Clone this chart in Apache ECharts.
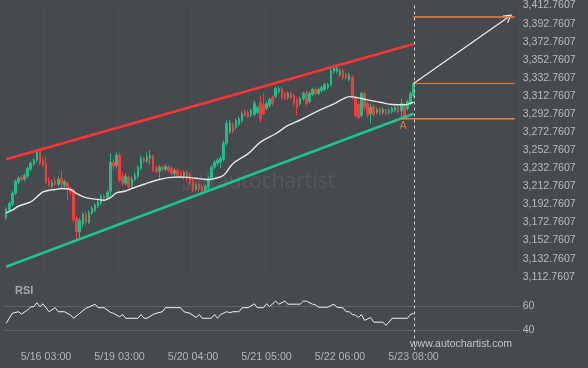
<!DOCTYPE html>
<html><head><meta charset="utf-8">
<script src="https://cdn.jsdelivr.net/npm/echarts@6/dist/echarts.min.js"></script>
<style>html,body{margin:0;padding:0;background:#46494e;}#c{width:588px;height:368px;}</style>
</head><body><div id="c"></div>
<script>
const nBars = 134;
const nFuture = 34;
const xTickIdx = [13, 37, 61, 85, 109, 133];
const xTickLabels = ['5/16 03:00', '5/19 03:00', '5/20 04:00', '5/21 05:00', '5/22 06:00', '5/23 08:00'];

const opens = [3178.6,3186.3,3193.0,3205.1,3217.2,3222.7,3220.5,3223.8,3231.6,3237.1,
3241.5,3251.4,3241.5,3238.2,3219.4,3212.8,3218.3,3215.0,3221.6,3213.9,
3216.1,3210.6,3208.4,3177.5,3162.1,3170.9,3181.9,3173.1,3183.0,3186.3,
3190.7,3194.1,3201.8,3199.6,3207.3,3239.3,3236.0,3247.0,3223.8,3216.1,
3222.7,3212.8,3220.5,3223.8,3232.7,3243.7,3240.4,3243.7,3245.9,3232.7,
3229.3,3233.8,3231.6,3233.8,3232.7,3227.1,3230.4,3228.2,3223.8,3228.2,
3226.0,3219.4,3209.5,3215.0,3212.8,3208.4,3211.7,3221.6,3233.8,3238.2,
3239.3,3242.6,3260.2,3272.4,3281.2,3277.9,3281.2,3285.6,3295.5,3294.4,
3291.1,3292.2,3294.4,3305.4,3303.2,3298.8,3302.1,3311.0,3312.1,3317.6,
3320.9,3315.4,3311.0,3315.4,3313.2,3308.8,3304.3,3309.9,3316.5,3306.6,
3314.3,3319.8,3315.4,3318.7,3319.8,3322.0,3325.3,3339.6,3339.6,3336.3,
3340.7,3336.3,3330.8,3333.0,3311.0,3303.2,3291.1,3315.4,3304.3,3293.3,
3301.0,3294.4,3298.8,3294.4,3296.6,3294.4,3295.5,3296.6,3299.9,3296.6,
3303.2,3298.8,3304.3,3313.2];
const closes = [3187.4,3194.1,3205.1,3218.3,3221.6,3220.5,3224.9,3232.7,3238.2,3241.5,
3251.4,3238.2,3236.0,3217.2,3213.9,3217.2,3215.0,3220.5,3216.1,3218.3,
3210.6,3206.2,3175.3,3162.1,3175.3,3181.9,3173.1,3184.1,3188.5,3191.8,
3195.2,3201.8,3199.6,3206.2,3239.3,3234.9,3247.0,3219.4,3216.1,3223.8,
3212.8,3220.5,3224.9,3233.8,3243.7,3240.4,3245.9,3247.0,3230.4,3229.3,
3233.8,3231.6,3234.9,3230.4,3227.1,3230.4,3224.9,3223.8,3228.2,3222.7,
3217.2,3208.4,3213.9,3209.5,3207.3,3212.8,3221.6,3233.8,3239.3,3241.5,
3243.7,3260.2,3282.3,3283.4,3273.5,3285.6,3287.8,3293.3,3291.1,3290.0,
3296.6,3304.3,3299.9,3287.8,3293.3,3304.3,3308.8,3304.3,3320.9,3320.9,
3311.0,3309.9,3315.4,3311.0,3304.3,3299.9,3309.9,3315.4,3304.3,3315.4,
3319.8,3315.4,3319.8,3322.0,3325.3,3325.3,3340.7,3344.1,3342.9,3340.7,
3333.0,3333.0,3336.3,3311.0,3291.1,3288.9,3315.4,3299.9,3291.1,3299.9,
3292.2,3297.7,3293.3,3297.7,3293.3,3296.6,3298.8,3299.9,3295.5,3304.3,
3290.0,3306.6,3315.4,3326.4];
const lows = [3175.3,3184.1,3190.7,3202.9,3215.0,3218.3,3218.3,3221.6,3229.3,3234.9,
3239.3,3236.0,3233.8,3215.0,3211.7,3210.6,3212.8,3212.8,3211.7,3211.7,
3197.4,3202.9,3173.1,3154.4,3153.2,3167.6,3169.8,3170.9,3180.8,3184.1,
3188.5,3191.8,3196.3,3197.4,3201.8,3230.4,3232.7,3217.2,3212.8,3213.9,
3210.6,3210.6,3218.3,3221.6,3230.4,3238.2,3238.2,3237.1,3228.2,3227.1,
3219.4,3229.3,3229.3,3228.2,3224.9,3223.8,3222.7,3221.6,3220.5,3218.3,
3213.9,3206.2,3207.3,3206.2,3204.0,3205.1,3208.4,3219.4,3231.6,3234.9,
3232.7,3240.4,3258.0,3270.2,3271.3,3275.7,3279.0,3283.4,3288.9,3287.8,
3288.9,3290.0,3292.2,3283.4,3291.1,3296.6,3299.9,3302.1,3309.9,3315.4,
3308.8,3307.7,3308.8,3308.8,3302.1,3291.1,3302.1,3307.7,3302.1,3304.3,
3312.1,3313.2,3313.2,3316.5,3317.6,3319.8,3323.1,3337.4,3337.4,3334.1,
3330.8,3330.8,3328.6,3308.8,3288.9,3286.7,3288.9,3296.6,3288.9,3282.3,
3290.0,3292.2,3291.1,3292.2,3291.1,3292.2,3293.3,3294.4,3293.3,3287.8,
3288.9,3296.6,3302.1,3311.0];
const highs = [3189.6,3196.3,3207.3,3220.5,3223.8,3224.9,3227.1,3234.9,3240.4,3243.7,
3253.6,3253.6,3244.8,3245.9,3222.7,3220.5,3222.7,3223.8,3230.4,3220.5,
3218.3,3212.8,3210.6,3179.7,3177.5,3184.1,3185.2,3186.3,3190.7,3194.1,
3197.4,3204.0,3204.0,3208.4,3249.2,3242.6,3250.3,3249.2,3228.2,3227.1,
3224.9,3223.8,3228.2,3236.0,3247.0,3245.9,3250.3,3252.5,3248.1,3236.0,
3236.0,3236.0,3237.1,3236.0,3234.9,3232.7,3232.7,3230.4,3230.4,3230.4,
3228.2,3221.6,3216.1,3217.2,3215.0,3215.0,3223.8,3236.0,3241.5,3243.7,
3245.9,3263.5,3285.6,3286.7,3283.4,3287.8,3290.0,3295.5,3297.7,3296.6,
3298.8,3307.7,3302.1,3313.2,3315.4,3306.6,3311.0,3313.2,3323.1,3323.1,
3323.1,3317.6,3317.6,3317.6,3315.4,3311.0,3312.1,3317.6,3318.7,3317.6,
3322.0,3322.0,3322.0,3324.2,3327.5,3327.5,3342.9,3347.4,3345.2,3342.9,
3342.9,3338.5,3338.5,3335.2,3313.2,3306.6,3317.6,3317.6,3306.6,3304.3,
3303.2,3299.9,3301.0,3299.9,3298.8,3298.8,3301.0,3302.1,3302.1,3309.9,
3305.4,3308.8,3317.6,3327.5];

const maIdx = [0,2,4,8,10,12,14,16,18,21,23,26,30,32,34,36,39,41,45,49,53,57,60,63,66,68,71,74,79,83,88,92,96,102,107,110,112,115,118,122,126,130,133];
const maVal = [3183.4,3186.3,3190.7,3195.5,3201.0,3206.5,3208.4,3209.2,3210.3,3209.2,
3204.8,3200.3,3198.1,3197.4,3200.3,3205.4,3207.6,3210.3,3215.0,3219.4,
3222.4,3223.1,3222.4,3221.3,3220.2,3221.3,3224.9,3237.8,3248.9,3261.6,
3270.9,3280.1,3286.1,3296.6,3304.0,3309.5,3312.0,3310.6,3308.4,3305.8,
3303.2,3302.9,3305.8];

const rsiIdx = [0,2,4,5,7,8,9,10,11,12,14,16,17,19,21,22,24,26,29,30,32,34,35,37,38,39,41,43,44,45,46,48,49,51,52,54,57,58,60,62,63,64,67,68,69,70,72,73,74,76,77,79,81,82,84,85,86,88,89,91,92,96,97,98,100,101,102,105,107,108,110,111,112,113,114,115,116,117,119,120,123,124,125,126,131,132,133];
const rsiVal = [45.8,54,55.3,53.4,56.7,59.4,59.4,62.7,59.4,61.8,
55.3,58.6,55.3,55.3,52.6,49.9,54,58.1,61.4,58.6,
58.6,54.8,54,51.2,53,49.9,49.9,49.9,53,49.9,
49.9,53,54,55.3,58.6,58.6,58.6,55.3,54,50.5,
53,49.9,49.9,53,49.9,53,55.3,54.5,55.3,55.3,
58.6,58.6,61.8,58.6,58.6,61.8,59.5,64,61.5,64,
61.5,61.5,64,64,61.5,61,59,59,61.5,59,
58.4,55.3,55.3,53,52.5,50.5,53,48.2,50.5,46.7,
46.7,44.1,46.7,49.9,49.9,53,54];

const channelUpper = [[0, 3242.6], [133, 3370.2]];
const channelLower = [[0, 3123.8], [133, 3293.0]];
const targetLevel = 3400.0;
const entryLevel = 3326.4;
const supportLevel = 3287.5;
const levelStartIdx = 133, supportStartIdx = 129, levelEndIdx = 166, arrowEndIdx = 164;
const priceMin = 3112.7607, priceMax = 3412.7607, priceStep = 20;
const rsiMin = 40, rsiMax = 60, rsiStep = 20;

const GREEN = '#1dbf87', RED = '#f43c3c', ORANGE = '#f5803a';
const FONT = '"Liberation Sans", Arial, sans-serif';
const categories = [];
for (let i = 0; i < nBars + nFuture; i++) categories.push(String(i));
const candles = opens.map((o, i) => [o, closes[i], lows[i], highs[i]]);
const pairs = (xs, ys) => xs.map((x, k) => [x, ys[k]]);
const priceLabel = (v) => {
  const snapped = priceMin + Math.round((v - priceMin) / priceStep) * priceStep;
  return snapped.toLocaleString('en-US', {minimumFractionDigits: 4, maximumFractionDigits: 4});
};

const chart = echarts.init(document.getElementById('c'), null, {renderer: 'canvas'});
const gridL = 4.67, gridR = 68.8;
const option = {
  backgroundColor: '#46494e',
  animation: false,
  grid: [
    {left: gridL, right: gridR, top: 4.7, bottom: 91.3},
    {left: gridL, right: gridR, top: 306, bottom: 37.7}
  ],
  xAxis: [
    {type: 'category', gridIndex: 0, data: categories, boundaryGap: true,
     axisLine: {show: false}, axisTick: {show: false}, axisLabel: {show: false},
     splitLine: {show: true, interval: (i) => xTickIdx.includes(i), lineStyle: {color: 'rgba(255,255,255,0.03)'}}},
    {type: 'category', gridIndex: 1, data: categories, boundaryGap: true,
     axisLine: {show: false}, axisTick: {show: false},
     axisLabel: {show: true, interval: (i) => xTickIdx.includes(i), margin: 21,
       formatter: (v, i) => { const k = xTickIdx.indexOf(Number(v)); return k >= 0 ? xTickLabels[k] : ''; },
       color: '#b4b4b4', fontSize: 10.7, fontFamily: FONT},
     splitLine: {show: false}}
  ],
  yAxis: [
    {type: 'value', gridIndex: 0, position: 'right', min: priceMin, max: priceMax, interval: priceStep,
     axisLine: {show: false}, axisTick: {show: false}, splitLine: {show: false},
     axisLabel: {margin: 3.5, color: '#bababa', fontSize: 10.6, fontFamily: FONT, formatter: priceLabel}},
    {type: 'value', gridIndex: 1, position: 'right', min: rsiMin, max: rsiMax, interval: rsiStep,
     axisLine: {show: false}, axisTick: {show: false},
     splitLine: {show: true, lineStyle: {color: '#5e6166', width: 1}},
     axisLabel: {margin: 3.5, color: '#bababa', fontSize: 10.6, fontFamily: FONT}}
  ],
  series: [
    {type: 'candlestick', xAxisIndex: 0, yAxisIndex: 0, data: candles, barWidth: 2,
     itemStyle: {color: GREEN, color0: RED, borderColor: GREEN, borderColor0: RED, borderWidth: 1}, z: 3},
    {type: 'line', xAxisIndex: 0, yAxisIndex: 0, data: pairs(maIdx, maVal), smooth: 0.35, symbol: 'none',
     lineStyle: {color: '#e6e6e6', width: 1.4}, z: 4},
    {type: 'line', xAxisIndex: 0, yAxisIndex: 0, data: channelUpper, symbol: 'none',
     lineStyle: {color: '#ff3535', width: 2.6}, z: 5},
    {type: 'line', xAxisIndex: 0, yAxisIndex: 0, data: channelLower, symbol: 'none',
     lineStyle: {color: '#1fc48a', width: 2.6}, z: 5},
    {type: 'line', xAxisIndex: 0, yAxisIndex: 0, data: [[levelStartIdx, targetLevel], [levelEndIdx, targetLevel]], symbol: 'none',
     lineStyle: {color: ORANGE, width: 1.4}, z: 5},
    {type: 'line', xAxisIndex: 0, yAxisIndex: 0, data: [[levelStartIdx, entryLevel], [levelEndIdx, entryLevel]], symbol: 'none',
     lineStyle: {color: ORANGE, width: 1}, z: 5,
     markLine: {silent: true, symbol: ['none', 'path://M0,0 L5,9 L4,10 L0,2.6 L-4,10 L-5,9 Z'], symbolSize: [9, 9],
       label: {show: false}, lineStyle: {color: '#eeeeee', width: 1.2, type: 'solid'},
       data: [[{coord: [levelStartIdx, entryLevel]}, {coord: [arrowEndIdx, targetLevel]}]]}},
    {type: 'line', xAxisIndex: 0, yAxisIndex: 0, data: [[supportStartIdx, supportLevel], [levelEndIdx, supportLevel]], symbol: 'none',
     lineStyle: {color: ORANGE, width: 1.4}, z: 5},
    {type: 'scatter', xAxisIndex: 0, yAxisIndex: 0, data: [[supportStartIdx, supportLevel]], symbolSize: 0,
     label: {show: true, formatter: 'A', position: 'bottom', distance: 2, offset: [2, 0], color: ORANGE, fontSize: 11, fontFamily: FONT}, z: 6},
    {type: 'line', xAxisIndex: 1, yAxisIndex: 1, data: pairs(rsiIdx, rsiVal), symbol: 'none', clip: false,
     lineStyle: {color: '#f0f0f0', width: 1}, z: 4}
  ]
};
chart.setOption(option);

const nowPt = chart.convertToPixel({gridIndex: 0}, [levelStartIdx, priceMax]);
const logoBars = [];
const logoH = [5, 8, 6, 12, 15, 11, 19, 24];
logoH.forEach((h, k) => logoBars.push({type: 'rect', shape: {x: 183 + k * 4, y: 190 - h, width: 2.6, height: h},
  style: {fill: 'rgba(255,255,255,0.07)'}, silent: true, z: 1}));
chart.setOption({graphic: [
  ...logoBars,
  {type: 'text', left: 217, top: 172, silent: true, z: 1,
   style: {text: 'autochartist', fill: 'rgba(255,255,255,0.075)', font: '21px "Open Sans", sans-serif'}},
  {type: 'text', left: 15, top: 285, silent: true,
   style: {text: 'RSI', fill: '#a8a8a8', font: 'bold 11px ' + FONT}},
  {type: 'text', left: 410, top: 339, silent: true,
   style: {text: 'www.autochartist.com', fill: '#c4c4c4', font: '10.5px ' + FONT}},
  {type: 'line', silent: true, z: 50,
   shape: {x1: Math.round(nowPt[0]) + 0.5, y1: nowPt[1], x2: Math.round(nowPt[0]) + 0.5, y2: 350},
   style: {stroke: '#cfcfcf', lineWidth: 1, lineDash: [3, 3]}}
]});
</script></body></html>
